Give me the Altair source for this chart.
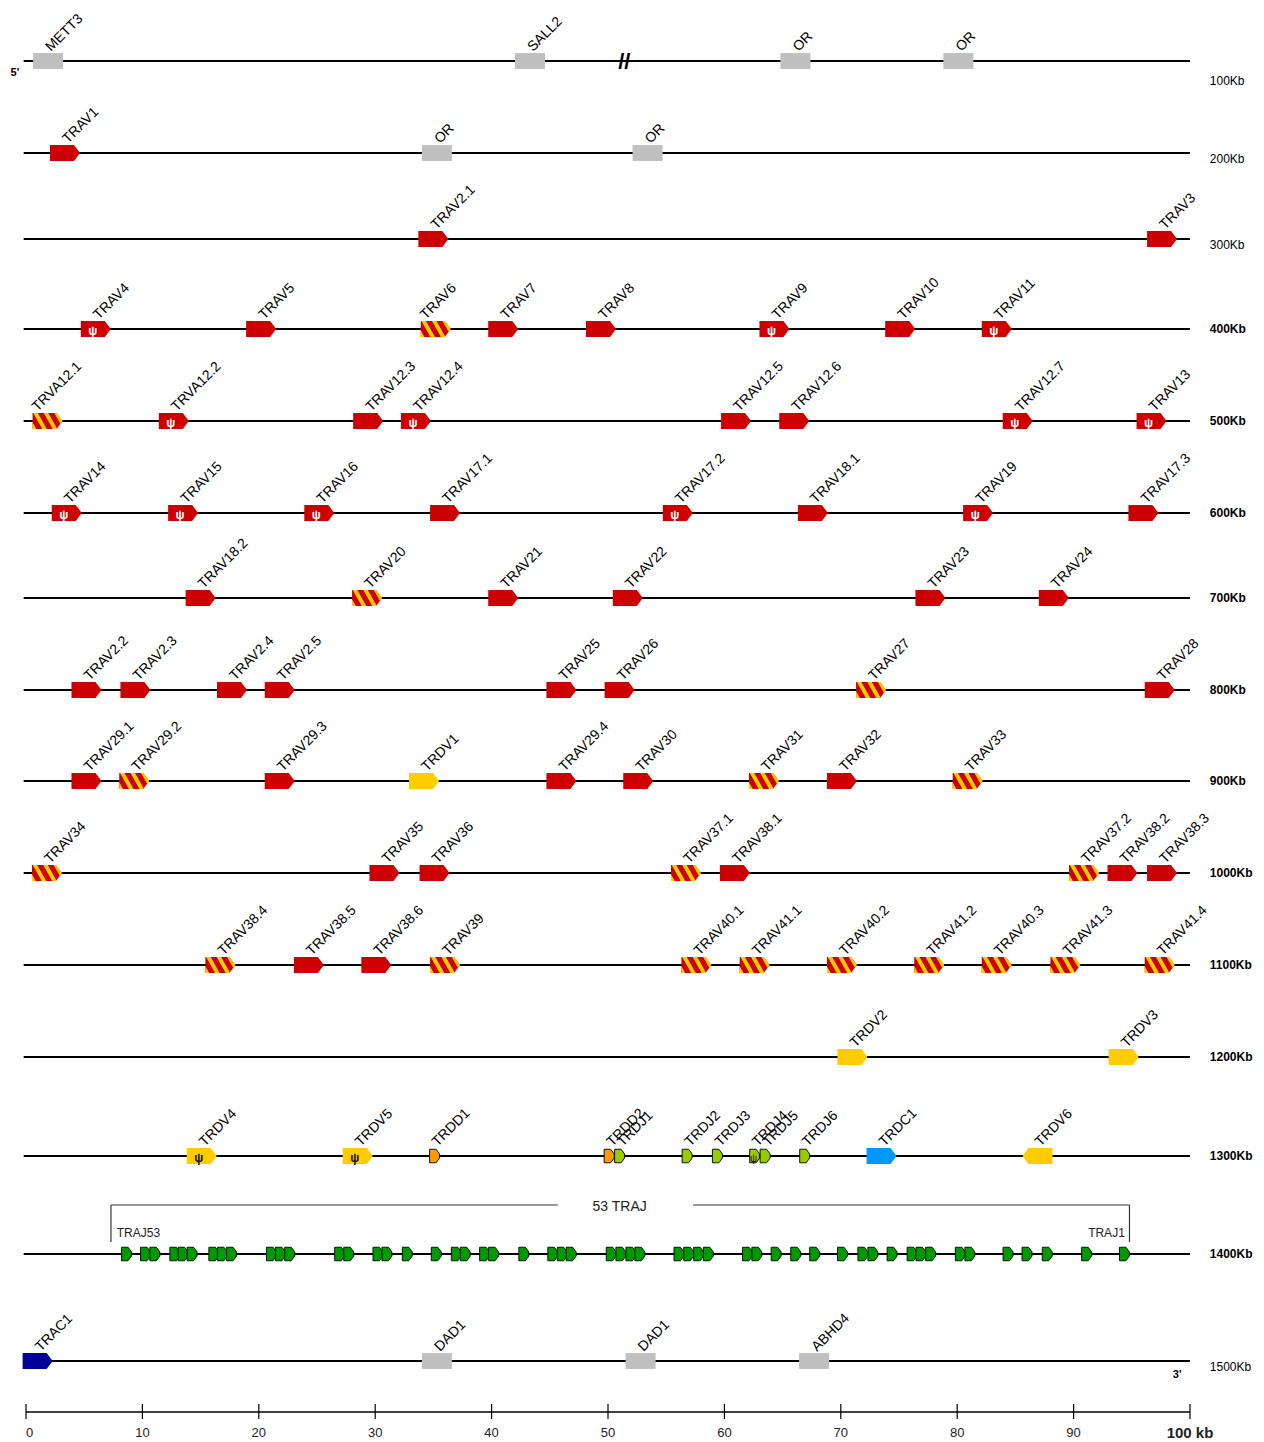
import altair as alt
import pandas as pd

FONT = "Liberation Sans"

# ---------------- data ----------------
ROW_LABELS = ["100Kb", "200Kb", "300Kb", "400Kb", "500Kb", "600Kb", "700Kb", "800Kb",
              "900Kb", "1000Kb", "1100Kb", "1200Kb", "1300Kb", "1400Kb", "1500Kb"]

ROW0_NAMES = ["METT3", "SALL2", "OR", "OR"]
ROW0_KB = [1.9, 43.3, 66.1, 80.1]
ROW0_TYPE = ["other", "other", "other", "other"]

ROW1_NAMES = ["TRAV1", "OR", "OR"]
ROW1_KB = [3.35, 35.3, 53.4]
ROW1_TYPE = ["V", "other", "other"]

ROW2_NAMES = ["TRAV2.1", "TRAV3"]
ROW2_KB = [35.0, 97.6]
ROW2_TYPE = ["V", "V"]

ROW3_NAMES = ["TRAV4", "TRAV5", "TRAV6", "TRAV7", "TRAV8", "TRAV9", "TRAV10", "TRAV11"]
ROW3_KB = [6.0, 20.2, 35.2, 41.0, 49.4, 64.3, 75.1, 83.4]
ROW3_TYPE = ["Vp", "V", "Vs", "V", "V", "Vp", "V", "Vp"]

ROW4_NAMES = ["TRVA12.1", "TRVA12.2", "TRAV12.3", "TRAV12.4", "TRAV12.5", "TRAV12.6", "TRAV12.7", "TRAV13"]
ROW4_KB = [1.85, 12.7, 29.4, 33.5, 61.0, 66.0, 85.2, 96.7]
ROW4_TYPE = ["Vs", "Vp", "V", "Vp", "V", "V", "Vp", "Vp"]

ROW5_NAMES = ["TRAV14", "TRAV15", "TRAV16", "TRAV17.1", "TRAV17.2", "TRAV18.1", "TRAV19", "TRAV17.3"]
ROW5_KB = [3.5, 13.5, 25.2, 36.0, 56.0, 67.6, 81.8, 96.0]
ROW5_TYPE = ["Vp", "Vp", "Vp", "V", "Vp", "V", "Vp", "V"]

ROW6_NAMES = ["TRAV18.2", "TRAV20", "TRAV21", "TRAV22", "TRAV23", "TRAV24"]
ROW6_KB = [15.0, 29.3, 41.0, 51.7, 77.7, 88.3]
ROW6_TYPE = ["V", "Vs", "V", "V", "V", "V"]

ROW7_NAMES = ["TRAV2.2", "TRAV2.3", "TRAV2.4", "TRAV2.5", "TRAV25", "TRAV26", "TRAV27", "TRAV28"]
ROW7_KB = [5.2, 9.4, 17.7, 21.8, 46.0, 51.0, 72.6, 97.4]
ROW7_TYPE = ["V", "V", "V", "V", "V", "V", "Vs", "V"]

ROW8_NAMES = ["TRAV29.1", "TRAV29.2", "TRAV29.3", "TRDV1", "TRAV29.4", "TRAV30", "TRAV31", "TRAV32", "TRAV33"]
ROW8_KB = [5.2, 9.3, 21.8, 34.2, 46.0, 52.6, 63.4, 70.1, 80.9]
ROW8_TYPE = ["V", "Vs", "V", "DV", "V", "V", "Vs", "V", "Vs"]

ROW9_NAMES = ["TRAV34", "TRAV35", "TRAV36", "TRAV37.1", "TRAV38.1", "TRAV37.2", "TRAV38.2", "TRAV38.3"]
ROW9_KB = [1.8, 30.8, 35.1, 56.7, 60.9, 90.9, 94.2, 97.6]
ROW9_TYPE = ["Vs", "V", "V", "Vs", "V", "Vs", "V", "V"]

ROW10_NAMES = ["TRAV38.4", "TRAV38.5", "TRAV38.6", "TRAV39", "TRAV40.1", "TRAV41.1", "TRAV40.2",
               "TRAV41.2", "TRAV40.3", "TRAV41.3", "TRAV41.4"]
ROW10_KB = [16.7, 24.3, 30.1, 36.0, 57.6, 62.6, 70.1, 77.6, 83.4, 89.3, 97.4]
ROW10_TYPE = ["Vs", "V", "V", "Vs", "Vs", "Vs", "Vs", "Vs", "Vs", "Vs", "Vs"]

ROW11_NAMES = ["TRDV2", "TRDV3"]
ROW11_KB = [71.0, 94.3]
ROW11_TYPE = ["DV", "DV"]

ROW12_NAMES = ["TRDV4", "TRDV5", "TRDD1", "TRDD2", "TRDJ1", "TRDJ2", "TRDJ3", "TRDJ4", "TRDJ5",
               "TRDJ6", "TRDC1", "TRDV6"]
ROW12_KB = [15.1, 28.5, 35.1, 50.1, 51.0, 56.8, 59.4, 62.6, 63.5, 66.9, 73.5, 86.9]
ROW12_TYPE = ["DVp", "DVp", "D", "D", "DJ", "DJ", "DJ", "DJp", "DJ", "DJ", "C", "DVr"]

# 53 TRAJ segments, TRAJ53 (left) ... TRAJ1 (right)
TRAJ_KB = [8.64, 10.27, 11.07, 12.79, 13.50, 14.27, 16.14, 16.88, 17.66, 21.09, 21.86, 22.66,
           26.95, 27.73, 30.24, 31.01, 32.76, 35.25, 36.97, 37.74, 39.40, 40.17, 42.77, 45.26,
           46.07, 46.84, 50.28, 51.11, 51.97, 52.74, 56.10, 56.94, 57.79, 58.62, 61.99, 62.79,
           64.45, 66.13, 67.76, 70.15, 71.90, 72.76, 74.41, 76.13, 76.89, 77.72, 80.27, 81.09,
           84.37, 86.00, 87.74, 91.12, 94.37]

ROW14_NAMES = ["TRAC1", "DAD1", "DAD1", "ABHD4"]
ROW14_KB = [1.0, 35.3, 52.8, 67.7]
ROW14_TYPE = ["AC", "other", "other", "other"]

AXIS_TICKS = [0, 10, 20, 30, 40, 50, 60, 70, 80, 90, 100]
AXIS_TEXT = ["0", "10", "20", "30", "40", "50", "60", "70", "80", "90", "100 kb"]

BRACKET_H_START = [7.3, 57.3]
BRACKET_H_END = [45.7, 94.8]
BRACKET_V = [7.3, 94.8]

# labels that the original places further left than the others
LABEL_LEFT = ["TRAV6", "TRVA12.1"]

ROWS = [
    (ROW0_NAMES, ROW0_KB, ROW0_TYPE), (ROW1_NAMES, ROW1_KB, ROW1_TYPE),
    (ROW2_NAMES, ROW2_KB, ROW2_TYPE), (ROW3_NAMES, ROW3_KB, ROW3_TYPE),
    (ROW4_NAMES, ROW4_KB, ROW4_TYPE), (ROW5_NAMES, ROW5_KB, ROW5_TYPE),
    (ROW6_NAMES, ROW6_KB, ROW6_TYPE), (ROW7_NAMES, ROW7_KB, ROW7_TYPE),
    (ROW8_NAMES, ROW8_KB, ROW8_TYPE), (ROW9_NAMES, ROW9_KB, ROW9_TYPE),
    (ROW10_NAMES, ROW10_KB, ROW10_TYPE), (ROW11_NAMES, ROW11_KB, ROW11_TYPE),
    (ROW12_NAMES, ROW12_KB, ROW12_TYPE), ([], [], []),
    (ROW14_NAMES, ROW14_KB, ROW14_TYPE),
]

recs = []
for r, (names, kbs, types) in enumerate(ROWS):
    for n, k, t in zip(names, kbs, types):
        recs.append({"row": r, "name": n, "kb": k, "type": t})
for i, k in enumerate(TRAJ_KB):
    recs.append({"row": 13, "name": f"TRAJ{53 - i}", "kb": k, "type": "J"})
genes = pd.DataFrame(recs)

CAT = {"V": "red", "Vp": "red", "Vs": "red", "DV": "yellow", "DVp": "yellow", "DVr": "yellow",
       "D": "orange", "DJ": "lime", "DJp": "lime", "C": "blue", "AC": "navy",
       "other": "grey", "J": "green"}
GLYPH = {"other": "box", "DVr": "rev", "D": "small", "DJ": "small", "DJp": "small", "J": "small"}
genes["cat"] = genes["type"].map(CAT)
genes["glyph"] = genes["type"].map(lambda t: GLYPH.get(t, "arrow"))
genes["stripe"] = genes["type"] == "Vs"
genes["psi"] = genes["type"].isin(["Vp", "DVp"])
genes["psi_small"] = genes["type"] == "DJp"
genes["psi_dark"] = genes["type"].isin(["DVp", "DJp"])
genes["label_pos"] = "none"
genes.loc[genes["type"] != "J", "label_pos"] = "std"
genes.loc[genes["name"].isin(LABEL_LEFT), "label_pos"] = "left"

rows_df = pd.DataFrame({"row": list(range(15)), "label": ROW_LABELS})
rows_df["style"] = ["top", "near", "near"] + ["main"] * 11 + ["near"]

ticks_df = pd.DataFrame({"t": AXIS_TICKS, "txt": AXIS_TEXT})
ticks_df["pos"] = ["first"] + ["mid"] * 9 + ["last"]

# ---------------- layout / style ----------------
ROW_PX = [53, 145, 231, 321, 413, 505, 590, 682, 773, 865, 957, 1049, 1148, 1246, 1353]
W, H = 1248, 1404
XS = alt.Scale(domain=[0, 100], range=[18, 1182], nice=False, zero=False)
YS = alt.Scale(domain=list(range(15)), range=ROW_PX, nice=False, zero=False)

CAT_DOMAIN = ["red", "yellow", "orange", "lime", "blue", "navy", "grey", "green"]
CAT_RANGE = ["#CC0000", "#FFCC00", "#FF9900", "#99CC00", "#0099FF", "#000099", "#C0C0C0", "#009900"]

ARROW = "M-1,-0.53L0.6,-0.53L1,0L0.6,0.53L-1,0.53Z"
REV = "M1,-0.53L-0.6,-0.53L-1,0L-0.6,0.53L1,0.53Z"
BOX = "M-1,-0.53L1,-0.53L1,0.53L-1,0.53Z"
SMALL = "M-1,-1.35L0.3,-1.35L1,-0.4L1,0.4L0.3,1.35L-1,1.35Z"
STRIPES = ("M-1,0.088L-0.75,0.53L-1,0.53Z "
           "M-0.95,-0.53L-0.65,-0.53L-0.05,0.53L-0.35,0.53Z "
           "M-0.25,-0.53L0.05,-0.53L0.629,0.492L0.6,0.53L0.35,0.53Z "
           "M0.45,-0.53L0.6,-0.53L1,0L0.857,0.189Z")


def X(f):
    return alt.X(f, type="quantitative", scale=XS, axis=None)


def Y(f):
    return alt.Y(f, type="quantitative", scale=YS, axis=None)


def XD(v):
    return alt.XDatum(v, type="quantitative", scale=XS, axis=None)


def YD(v):
    return alt.YDatum(v, type="quantitative", scale=YS, axis=None)


color = alt.Color("cat:N", scale=alt.Scale(domain=CAT_DOMAIN, range=CAT_RANGE), legend=None)

# ---------------- layers ----------------
row_lines = alt.Chart(rows_df).mark_rule(color="black", strokeWidth=2).encode(
    x=XD(-0.2), x2=alt.X2Datum(100), y=Y("row"))

base = alt.Chart(genes)


def glyph(name, path, size, **kw):
    return base.transform_filter(f"datum.glyph == '{name}'").mark_point(
        shape=path, size=size, filled=True, opacity=1, **kw
    ).encode(x=X("kb"), y=Y("row"), color=color)


boxes = glyph("box", BOX, 900, strokeWidth=0)
arrows = glyph("arrow", ARROW, 900, strokeWidth=0)
revs = glyph("rev", REV, 900, strokeWidth=0)
smalls = glyph("small", SMALL, 100, stroke="#111", strokeWidth=1)

stripes = base.transform_filter("datum.stripe").mark_point(
    shape=STRIPES, size=900, filled=True, opacity=1, color="#FFCC00", strokeWidth=0
).encode(x=X("kb"), y=Y("row"))

psi_color = alt.condition("datum.psi_dark", alt.value("#111111"), alt.value("white"))
psi = base.transform_filter("datum.psi").mark_text(
    text="ψ", fontSize=12, fontWeight="bold", font=FONT, align="center", baseline="middle",
    xOffset=-3, yOffset=2
).encode(x=X("kb"), y=Y("row"), color=psi_color)
psi_small = base.transform_filter("datum.psi_small").mark_text(
    text="ψ", fontSize=10, font=FONT, align="center", baseline="middle", xOffset=-1, yOffset=3
).encode(x=X("kb"), y=Y("row"), color=psi_color)


def gene_labels(kind, xoff):
    return base.transform_filter(f"datum.label_pos == '{kind}'").mark_text(
        angle=315, align="left", baseline="alphabetic", fontSize=14, font=FONT, color="black",
        xOffset=xoff, yOffset=-9
    ).encode(x=X("kb"), y=Y("row"), text="name:N")


labels = gene_labels("std", 3)
labels_left = gene_labels("left", -10)

rowlab_main = alt.Chart(rows_df).transform_filter("datum.style == 'main'").mark_text(
    align="left", baseline="middle", fontSize=12, fontWeight="bold", font=FONT, color="black"
).encode(x=XD(101.7), y=Y("row"), text="label:N")
rowlab_near = alt.Chart(rows_df).transform_filter("datum.style == 'near'").mark_text(
    align="left", baseline="middle", fontSize=12, font=FONT, color="black", yOffset=6
).encode(x=XD(101.7), y=Y("row"), text="label:N")
rowlab_top = alt.Chart(rows_df).transform_filter("datum.style == 'top'").mark_text(
    align="left", baseline="middle", fontSize=12, font=FONT, color="black", yOffset=20
).encode(x=XD(101.7), y=Y("row"), text="label:N")

# bracket for the 53 TRAJ
bh_df = pd.DataFrame({"a": BRACKET_H_START, "b": BRACKET_H_END, "row": [13, 13]})
bv_df = pd.DataFrame({"a": BRACKET_V, "row": [13, 13]})
bracket_h = alt.Chart(bh_df).mark_rule(color="#333333", strokeWidth=1.2, yOffset=-49).encode(
    x=X("a"), x2="b", y=Y("row"))
bracket_v = alt.Chart(bv_df).mark_rule(color="#333333", strokeWidth=1.2, yOffset=-49,
                                       y2Offset=-12).encode(x=X("a"), y=Y("row"), y2="row")

one = pd.DataFrame({"k": [0]})
traj_title = alt.Chart(one).mark_text(
    text="53 TRAJ", fontSize=14, font=FONT, color="#222", align="center", baseline="middle",
    yOffset=-47).encode(x=XD(51.0), y=YD(13))
traj53 = alt.Chart(one).mark_text(
    text="TRAJ53", fontSize=12, font=FONT, color="#222", align="left", baseline="middle",
    yOffset=-21).encode(x=XD(7.8), y=YD(13))
traj1 = alt.Chart(one).mark_text(
    text="TRAJ1", fontSize=12, font=FONT, color="#222", align="right", baseline="middle",
    yOffset=-21).encode(x=XD(94.4), y=YD(13))

brk = alt.Chart(one).mark_text(
    text="//", fontSize=22, fontWeight="bold", font=FONT, color="black", align="center",
    baseline="middle", yOffset=1).encode(x=XD(51.4), y=YD(0))
five = alt.Chart(one).mark_text(
    text="5'", fontSize=11, fontWeight="bold", font=FONT, color="black", align="center",
    baseline="middle", yOffset=12).encode(x=XD(-0.95), y=YD(0))
three = alt.Chart(one).mark_text(
    text="3'", fontSize=11, fontWeight="bold", font=FONT, color="black", align="center",
    baseline="middle", yOffset=14).encode(x=XD(98.9), y=YD(14))

# kb scale bar at the bottom (drawn with the x scale)
axis_line = alt.Chart(pd.DataFrame({"start": [0], "end": [100]})).mark_rule(
    color="black", strokeWidth=1.3).encode(x=X("start"), x2="end", y=alt.value(H))
axis_ticks = alt.Chart(ticks_df).mark_rule(color="black", strokeWidth=1.2).encode(
    x=X("t"), y=alt.value(H - 8), y2=alt.value(H + 7))


def tick_text(pos, align, size, weight):
    return alt.Chart(ticks_df).transform_filter(f"datum.pos == '{pos}'").mark_text(
        align=align, baseline="middle", fontSize=size, fontWeight=weight, font=FONT,
        color="#222"
    ).encode(x=X("t"), y=alt.value(H + 21), text="txt:N")


tick_first = tick_text("first", "left", 13, "normal")
tick_mid = tick_text("mid", "center", 13, "normal")
tick_last = tick_text("last", "center", 15, "bold")

chart = alt.layer(
    row_lines, boxes, arrows, revs, smalls, stripes, psi, psi_small, labels, labels_left,
    rowlab_main, rowlab_near, rowlab_top, bracket_h, bracket_v, traj_title, traj53, traj1,
    brk, five, three, axis_line, axis_ticks, tick_first, tick_mid, tick_last,
).properties(
    width=W, height=H,
    autosize=alt.AutoSizeParams(type="none"),
    padding={"left": 0, "top": 0, "right": 0, "bottom": 30},
).configure_view(strokeWidth=0)

chart.save("out.html", embed_options={"renderer": "svg", "actions": False})
